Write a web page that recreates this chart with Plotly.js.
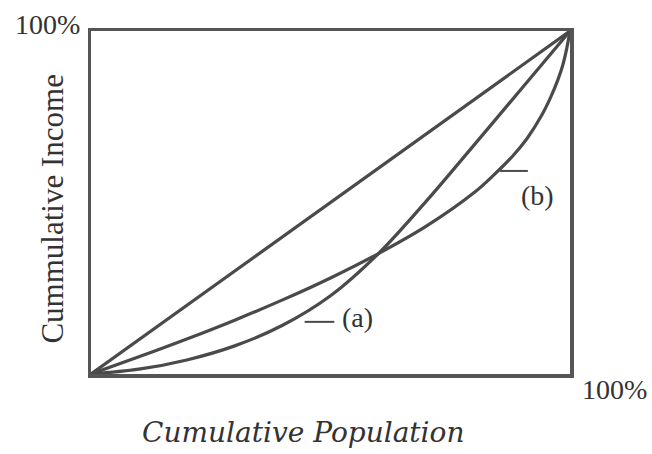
<!DOCTYPE html>
<html>
<head>
<meta charset="utf-8">
<script src="https://cdn.plot.ly/plotly-3.0.1.min.js"></script>
<style>html,body{margin:0;padding:0;background:#fff;}#chart{width:652px;height:454px;}</style>
</head>
<body>
<div id="chart"></div>
<script>
// Line of equality
const equalityPop = [0, 100];
const equalityInc = [0, 100];
// Lorenz curve (a)
const curveAPop = [0, 10, 20, 30, 40, 50, 60, 70, 80, 90, 100];
const curveAInc = [0, 1.4, 4.1, 8.2, 14.2, 22.8, 35.1, 50.4, 66.8, 83.4, 100];
// Lorenz curve (b)
const curveBPop = [0, 10, 20, 30, 40, 50, 60, 70, 80, 84, 88, 91, 94, 96, 97.5, 98.5, 99.3, 100];
const curveBInc = [0, 5.0, 10.2, 15.7, 21.6, 28.0, 35.1, 43.1, 52.9, 57.9, 63.5, 68.6, 75.2, 80.8, 85.9, 90.1, 94.8, 100];
// Text
const xTitle = "Cumulative Population";
const yTitle = "Cummulative Income";
const topLabel = "100%";
const rightLabel = "100%";
const labelA = "(a)";
const labelB = "(b)";

const lineStyle = {color: '#4a4a4a', width: 3.2};
const serif = 'Liberation Serif, Times New Roman, serif';

const traces = [
  {x: equalityPop, y: equalityInc, mode: 'lines', line: lineStyle, hoverinfo: 'skip'},
  {x: curveAPop, y: curveAInc, mode: 'lines', line: Object.assign({shape: 'spline', smoothing: 1}, lineStyle), hoverinfo: 'skip'},
  {x: curveBPop, y: curveBInc, mode: 'lines', line: Object.assign({shape: 'spline', smoothing: 1}, lineStyle), hoverinfo: 'skip'}
];

const axisCommon = {
  range: [0, 100], showgrid: false, zeroline: false, showticklabels: false, ticks: '',
  showline: true, mirror: true, linecolor: '#555', linewidth: 3.5, fixedrange: true
};

const layout = {
  width: 652, height: 454,
  margin: {l: 91, r: 82, t: 31, b: 80, pad: 0},
  paper_bgcolor: '#ffffff', plot_bgcolor: '#ffffff',
  showlegend: false,
  xaxis: Object.assign({}, axisCommon),
  yaxis: Object.assign({}, axisCommon),
  shapes: [
    {type: 'line', xref: 'x', yref: 'y', x0: 44.6, x1: 50.8, y0: 15.2, y1: 15.2, line: {color: '#4a4a4a', width: 2}},
    {type: 'line', xref: 'x', yref: 'y', x0: 85.4, x1: 91.2, y0: 59.2, y1: 59.2, line: {color: '#4a4a4a', width: 2}}
  ],
  annotations: [
    {text: topLabel, xref: 'paper', yref: 'paper', x: -0.018, y: 1.018, xanchor: 'right', yanchor: 'middle', showarrow: false, font: {family: serif, size: 28, color: '#333'}},
    {text: rightLabel, xref: 'paper', yref: 'paper', x: 1.092, y: -0.045, xanchor: 'center', yanchor: 'middle', showarrow: false, font: {family: serif, size: 28, color: '#333'}},
    {text: labelA, xref: 'x', yref: 'y', x: 55.6, y: 16.6, xanchor: 'center', yanchor: 'middle', showarrow: false, font: {family: serif, size: 28, color: '#333'}},
    {text: labelB, xref: 'x', yref: 'y', x: 93.3, y: 52.0, xanchor: 'center', yanchor: 'middle', showarrow: false, font: {family: serif, size: 28, color: '#333'}},
    {text: yTitle, xref: 'paper', yref: 'paper', x: -0.081, y: 0.48, xanchor: 'center', yanchor: 'middle', textangle: -90, showarrow: false, font: {family: serif, size: 31, color: '#333'}},
    {text: xTitle, xref: 'paper', yref: 'paper', x: 0.443, y: -0.17, xanchor: 'center', yanchor: 'middle', showarrow: false, font: {family: 'DejaVu Serif, serif', size: 28, color: '#333', style: 'italic'}}
  ]
};

Plotly.newPlot('chart', traces, layout, {staticPlot: true, displayModeBar: false});
</script>
</body>
</html>
